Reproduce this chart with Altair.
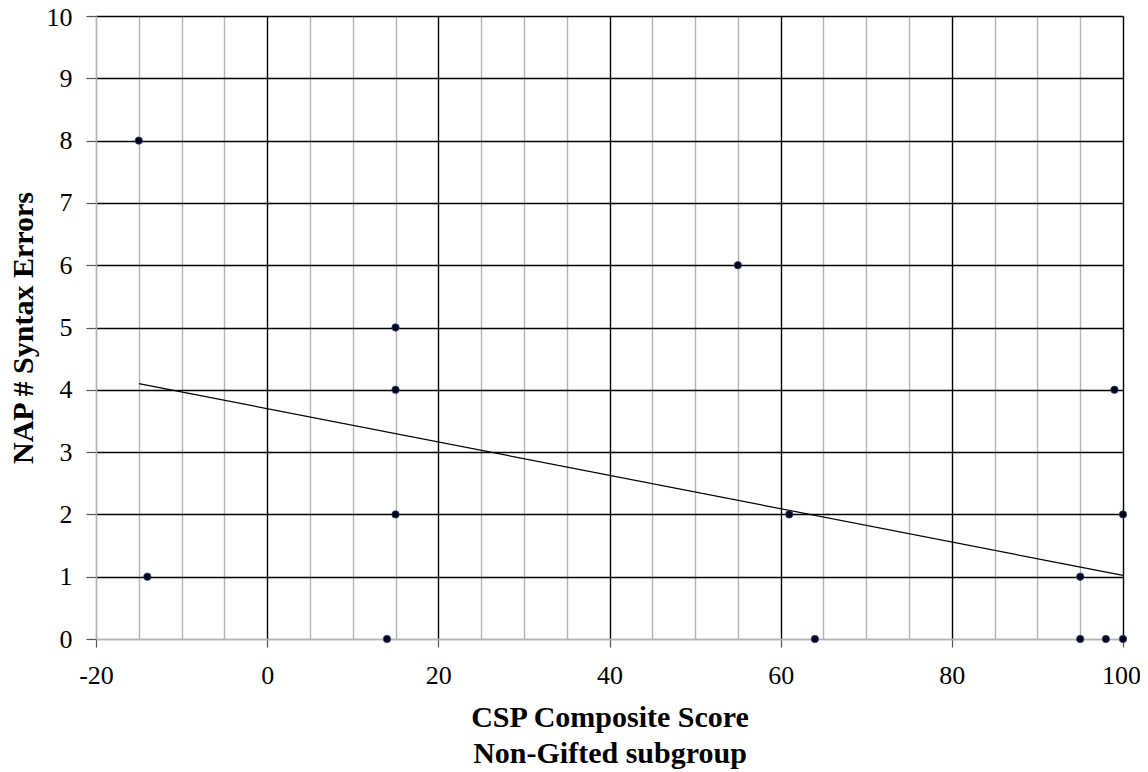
import altair as alt
import pandas as pd

# data
csp_score = [-15, -14, 14, 15, 15, 15, 55, 61, 64, 95, 95, 98, 99, 100, 100]
syntax_errors = [8, 1, 0, 5, 4, 2, 6, 2, 0, 1, 0, 0, 4, 2, 0]
trend_x = [-15, 100]
trend_y = [4.1, 1.02]
x_ticks = list(range(-20, 101, 5))
y_ticks = list(range(0, 11))

pts = pd.DataFrame({"x": csp_score, "y": syntax_errors})
trend = pd.DataFrame({"x": trend_x, "y": trend_y})

FONT = "Liberation Serif"
GRAY = "#b3b3b3"

xscale = alt.Scale(domain=[-20, 100], nice=False, zero=False)
yscale = alt.Scale(domain=[0, 10], nice=False, zero=False)

xaxis = alt.Axis(
    values=x_ticks,
    title=["CSP Composite Score", "Non-Gifted subgroup"],
    titleFont=FONT, titleFontSize=30, titleFontWeight="bold", titleColor="black",
    titleLineHeight=36, titlePadding=14,
    labelFont=FONT, labelFontSize=26, labelColor="black", labelPadding=15,
    labelExpr="datum.value % 20 === 0 ? toString(datum.value) : ''",
    labelOffset={"condition": {"test": "datum.value === 100", "value": -2}, "value": 0},
    labelFlush=False, labelOverlap=False,
    grid=True,
    gridColor={"condition": {"test": "datum.value % 20 === 0 && datum.value > -20", "value": "black"}, "value": GRAY},
    gridWidth=1.4,
    tickSize=8, tickWidth=1.2,
    tickColor={"condition": {"test": "datum.value % 20 === 0", "value": "#555555"}, "value": "transparent"},
    domainColor=GRAY, domainWidth=1.4,
)

yaxis = alt.Axis(
    values=y_ticks,
    format="d",
    title="NAP # Syntax Errors",
    titleFont=FONT, titleFontSize=30, titleFontWeight="bold", titleColor="black",
    titlePadding=8,
    labelFont=FONT, labelFontSize=26, labelColor="black", labelPadding=14,
    labelOffset={"condition": {"test": "datum.value === 10", "value": 1}, "value": 0},
    labelFlush=False, labelOverlap=False,
    grid=True,
    gridColor={"condition": {"test": "datum.value > 0", "value": "black"}, "value": GRAY},
    gridWidth=1.4,
    tickSize=10, tickWidth=1.2, tickColor="#555555",
    domainColor=GRAY, domainWidth=1.4,
)

points = alt.Chart(pts).mark_circle(size=55, opacity=1, color="#000018", stroke="#2a4a80", strokeWidth=0.8).encode(
    x=alt.X("x:Q", scale=xscale, axis=xaxis),
    y=alt.Y("y:Q", scale=yscale, axis=yaxis),
)

line = alt.Chart(trend).mark_line(color="black", strokeWidth=1.2).encode(
    x=alt.X("x:Q", scale=xscale),
    y=alt.Y("y:Q", scale=yscale),
)

chart = alt.layer(line, points).properties(
    width=1027, height=623,
    autosize=alt.AutoSizeParams(type="none"),
    padding={"left": 88, "top": 8, "right": 17, "bottom": 132},
).configure_view(stroke=None)

chart.save("out.html", embed_options={"renderer": "svg", "actions": False})
